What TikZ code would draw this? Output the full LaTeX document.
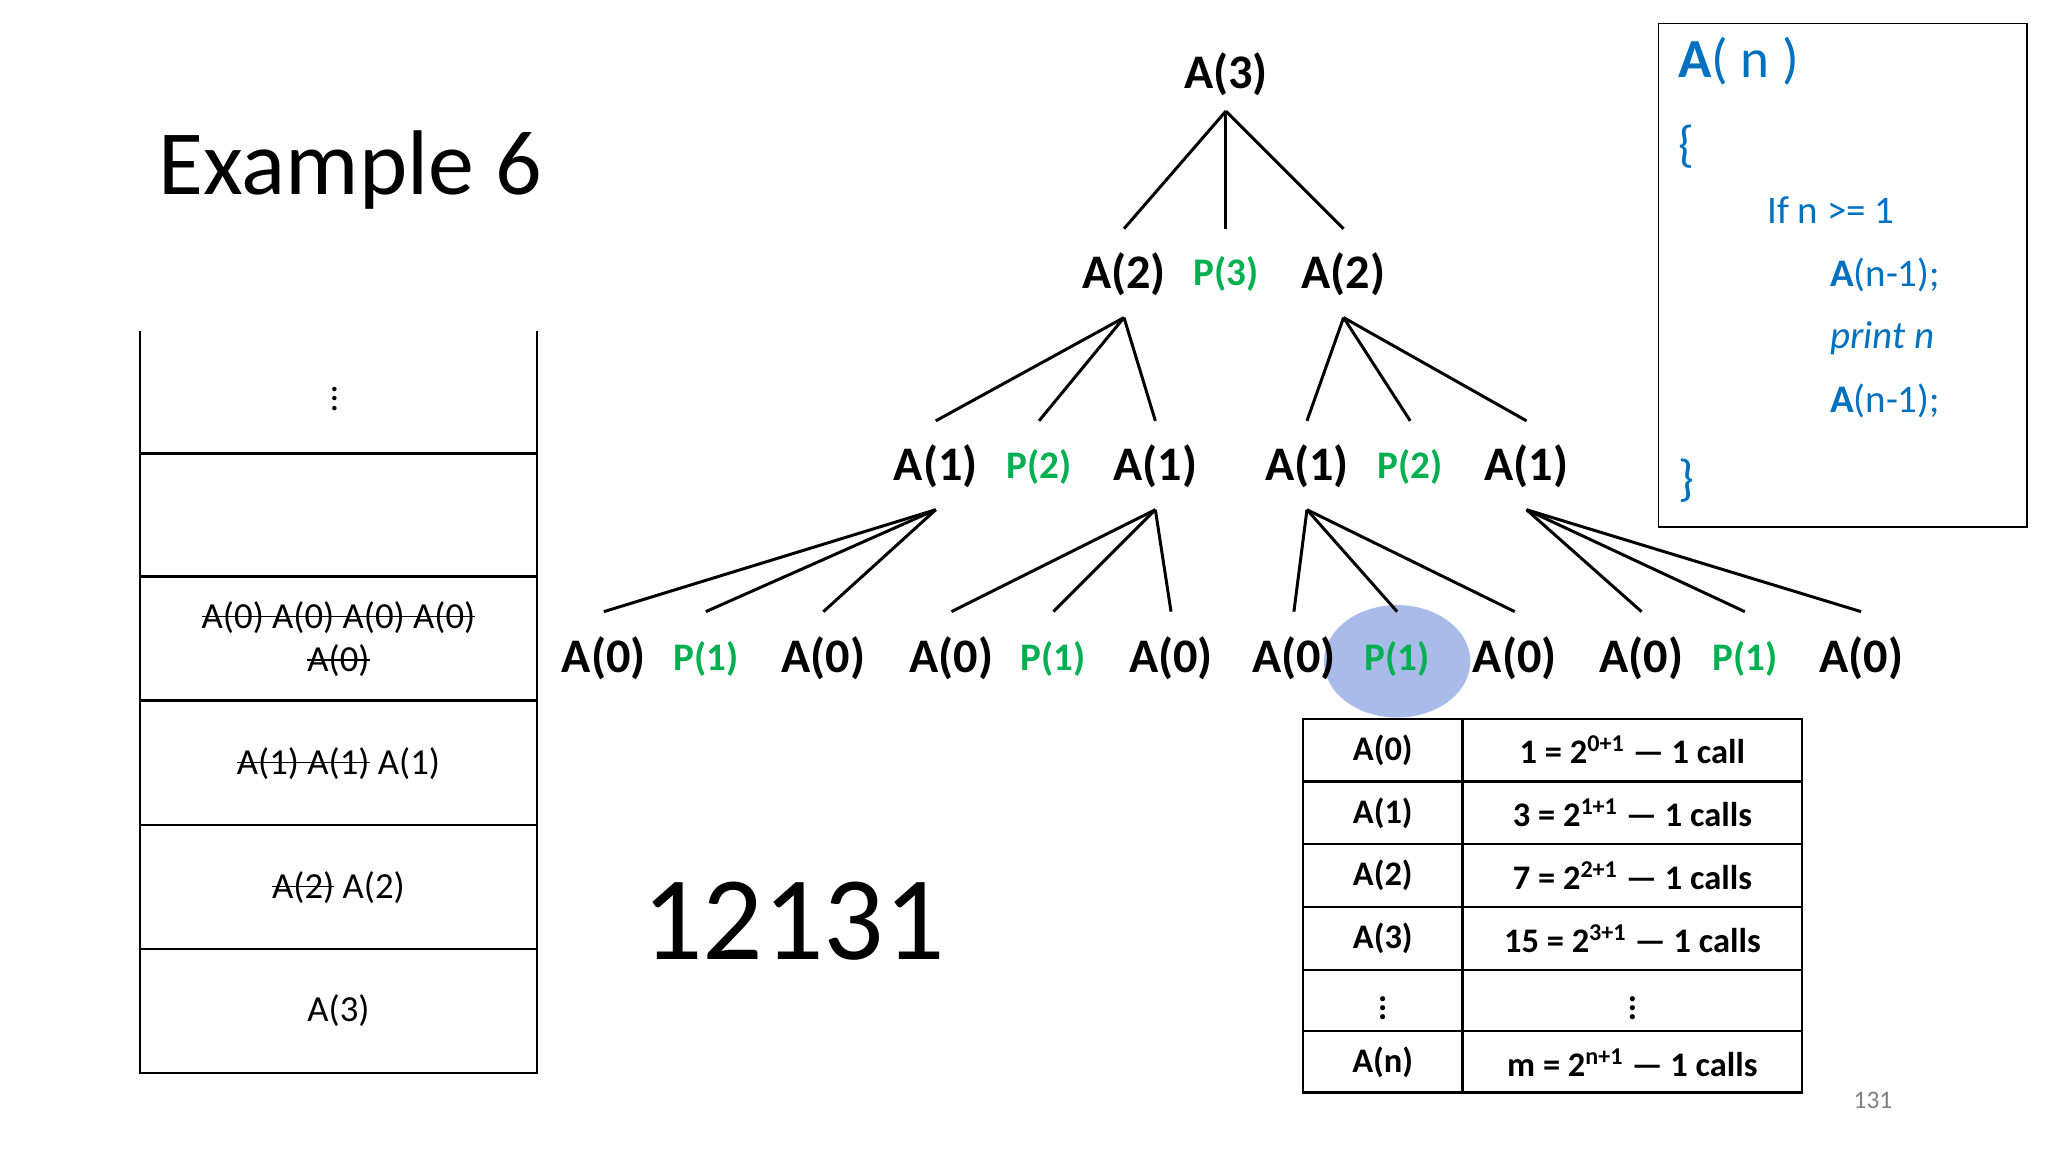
\documentclass[tikz,border=0pt]{standalone}
\usepackage{fontspec}
\setmainfont{Carlito}
\usetikzlibrary{positioning}
\definecolor{pgreen}{RGB}{0,176,80}
\definecolor{cblue}{RGB}{0,112,192}
\definecolor{hblue}{RGB}{140,165,225}
\newsavebox\strkbox
\newcommand\strk[1]{\sbox\strkbox{#1}\rlap{\rule[0.3em]{\wd\strkbox}{0.7pt}}\usebox\strkbox}

\begin{document}
\begin{tikzpicture}[x=0.02cm, y=-0.02cm,
    call/.style={font=\fontsize{21}{23}\selectfont\bfseries, inner sep=1pt},
    prt/.style={font=\fontsize{17}{20}\selectfont\bfseries, text=pgreen, inner sep=1pt},
    edge/.style={line width=1.3pt},
    cell/.style={font=\fontsize{16}{19}\selectfont, align=center},
    tcell/.style={font=\fontsize{15}{18}\selectfont\bfseries},
    code/.style={font=\fontsize{17}{20}\selectfont, text=cblue, anchor=west}
]
\useasboundingbox (0,0) rectangle (1567,882);

% highlight
\fill[hblue, opacity=0.75] (1069,506) ellipse [x radius=56, y radius=43];

% tree
\node[call] (R) at (938,57) {A(3)};
\node[call] (L) at (860,210) {A(2)};
\node[prt] (P3) at (938,210) {P(3)};
\node[call] (Rt) at (1028,210) {A(2)};
\foreach \x in {860,938,1028}
  \draw[edge] (938,85) -- (\x,175);

\foreach \x/\t/\l in {716/call/A(1),795/prt/P(2),884/call/A(1),1000/call/A(1),1079/prt/P(2),1168/call/A(1)}
  \node[\t] (m\x) at (\x,357) {\l};
\foreach \x in {716,795,884} \draw[edge] (860,243) -- (\x,322);
\foreach \x in {1000,1079,1168} \draw[edge] (1028,243) -- (\x,322);

\foreach \x/\t/\l in {462/call/A(0),540/prt/P(1),630/call/A(0),728/call/A(0),806/prt/P(1),896/call/A(0),
    990/call/A(0),1069/prt/P(1),1159/call/A(0),1256/call/A(0),1335/prt/P(1),1424/call/A(0)}
  \node[\t] (n\x) at (\x,504) {\l};
\foreach \f/\a/\b/\c in {716/462/540/630,884/728/806/896,1000/990/1069/1159,1168/1256/1335/1424}
  \foreach \x in {\a,\b,\c} \draw[edge] (\f,390) -- (\x,468);

% title and output
\node[font=\fontsize{40}{44}\selectfont] (title) at (268,130) {Example 6};
\node[font=\fontsize{52}{56}\selectfont] (out) at (607,705) {12131};

% stack
\draw[line width=1pt] (107,253) -- (107,821) -- (411,821) -- (411,253);
\foreach \y in {347,441,536,631,726} \draw[line width=1pt] (107,\y) -- (411,\y);
\node[cell] (s1) at (256,300) {$\vdots$};
\node[cell] (s3) at (259,489) {\strk{A(0) A(0) A(0) A(0)}\\\strk{A(0)}};
\node[cell] (s4) at (259,584) {\strk{A(1) A(1)} A(1)};
\node[cell] (s5) at (259,679) {\strk{A(2)} A(2)};
\node[cell] (s6) at (259,773) {A(3)};

% code
\draw[line width=0.8pt] (1269,18) rectangle (1551,403);
\node[code, font=\fontsize{24}{28}\selectfont] (c1) at (1278,47) {\textbf{A}( n )};
\node[code, font=\fontsize{22}{26}\selectfont] (c2) at (1278,112) {\{};
\node[code] (c3) at (1346,161) {If n >= 1};
\node[code] (c4) at (1394,210) {\textbf{A}(n-1);};
\node[code] (c5) at (1394,259) {\textit{print n}};
\node[code] (c6) at (1394,307) {\textbf{A}(n-1);};
\node[code, font=\fontsize{22}{26}\selectfont] (c7) at (1278,368) {\}};

% table
\draw[line width=1pt] (997,550) rectangle (1379,836);
\draw[line width=1pt] (1119,550) -- (1119,836);
\foreach \y in {598,646,694,742,789} \draw[line width=1pt] (997,\y) -- (1379,\y);
\foreach \y/\a/\b in {574/A(0)/{1 = 2\textsuperscript{0+1} --- 1 call},
    622/A(1)/{3 = 2\textsuperscript{1+1} --- 1 calls},
    670/A(2)/{7 = 2\textsuperscript{2+1} --- 1 calls},
    718/A(3)/{15 = 2\textsuperscript{3+1} --- 1 calls},
    766/$\vdots$/$\vdots$,
    813/A(n)/{m = 2\textsuperscript{n+1} --- 1 calls}} {
  \node[tcell] at (1058,\y) {\a};
  \node[tcell] at (1249,\y) {\b};
}

\node[font=\fontsize{11}{13}\selectfont, text=gray] (pg) at (1433,842) {131};
\end{tikzpicture}
\end{document}
